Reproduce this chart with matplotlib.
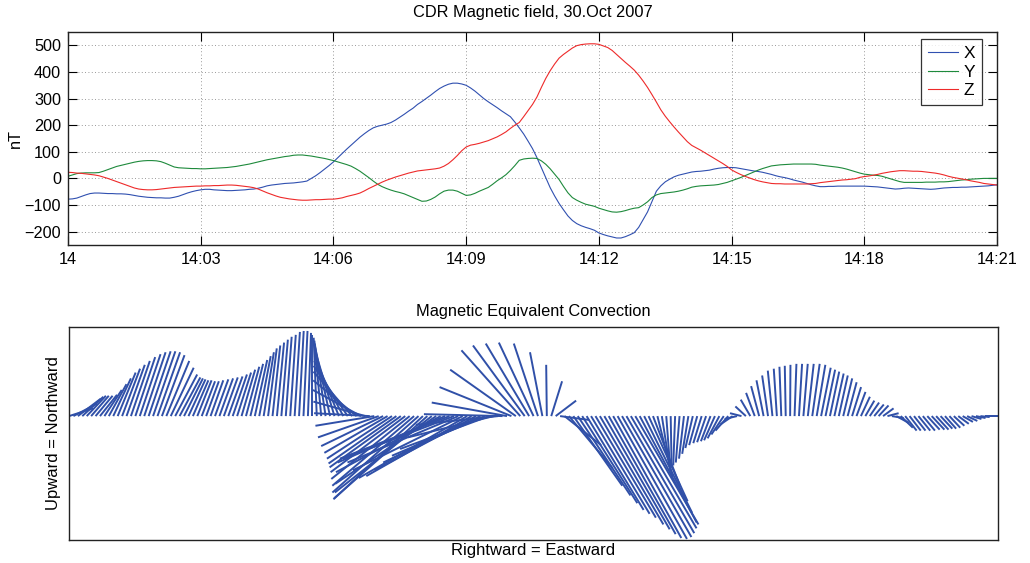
import numpy as np
import matplotlib.pyplot as plt
from matplotlib.collections import LineCollection

plt.rcParams['font.family'] = ['Liberation Sans', 'DejaVu Sans']
plt.rcParams['font.size'] = 11.7

# CDR magnetometer, 30 Oct 2007 14:00-14:21, one reading every 6 s (nT)
sample_s = 6
bx = [-78, -77, -74, -68, -62, -57, -55, -55, -56, -57,
      -57, -58, -58, -59, -61, -64, -67, -69, -71, -72,
      -73, -73, -74, -74, -71, -67, -61, -55, -50, -46,
      -43, -41, -41, -43, -44, -45, -46, -46, -45, -44,
      -43, -41, -40, -37, -33, -28, -25, -23, -21, -19,
      -18, -17, -15, -13, -10, 0, 10, 22, 35, 48,
      62, 78, 94, 110, 125, 140, 155, 168, 180, 190,
      196, 200, 204, 210, 219, 230, 241, 253, 264, 278,
      289, 301, 313, 326, 338, 347, 354, 358, 358, 355,
      350, 340, 328, 314, 300, 288, 277, 266, 254, 243,
      232, 212, 190, 167, 140, 112, 78, 40, 2, -35,
      -66, -94, -118, -141, -158, -170, -178, -184, -189, -195,
      -205, -211, -216, -220, -224, -224, -219, -212, -204, -184,
      -155, -126, -87, -48, -28, -13, -3, 6, 12, 16,
      20, 24, 26, 27, 29, 31, 35, 38, 40, 41,
      41, 40, 37, 34, 31, 28, 26, 23, 19, 15,
      10, 6, 3, -1, -6, -10, -14, -19, -24, -28,
      -31, -31, -30, -30, -29, -29, -29, -29, -29, -29,
      -29, -30, -31, -32, -34, -36, -38, -40, -39, -37,
      -36, -37, -38, -39, -40, -41, -40, -38, -36, -35,
      -34, -34, -33, -33, -32, -31, -30, -29, -28, -26,
      -24]
by = [8, 13, 18, 20, 21, 21, 21, 22, 27, 33,
      39, 45, 49, 53, 57, 61, 64, 66, 67, 67,
      66, 63, 57, 50, 43, 40, 39, 38, 37, 37,
      36, 36, 37, 38, 39, 40, 41, 43, 45, 48,
      51, 54, 58, 62, 66, 70, 73, 76, 79, 82,
      84, 87, 88, 88, 86, 84, 81, 78, 75, 71,
      67, 62, 57, 52, 46, 37, 27, 15, 3, -10,
      -22, -31, -38, -44, -49, -53, -58, -65, -72, -79,
      -86, -85, -79, -70, -58, -48, -44, -44, -48, -56,
      -64, -62, -56, -48, -41, -34, -22, -9, 2, 14,
      30, 48, 68, 73, 75, 76, 75, 66, 53, 36,
      16, -4, -30, -54, -72, -82, -90, -97, -101, -105,
      -112, -117, -122, -126, -127, -125, -121, -116, -112, -110,
      -100, -88, -72, -62, -57, -55, -53, -51, -48, -44,
      -39, -33, -30, -28, -27, -26, -25, -23, -19, -15,
      -9, -3, 3, 10, 17, 24, 31, 37, 42, 47,
      49, 51, 52, 53, 54, 54, 54, 54, 54, 53,
      50, 48, 46, 44, 42, 39, 35, 30, 25, 20,
      16, 14, 12, 11, 8, 3, -2, -7, -12, -15,
      -15, -15, -15, -15, -14, -14, -14, -13, -13, -12,
      -10, -8, -6, -5, -3, -2, -1, 0, 0, 0,
      0]
bz = [23, 22, 20, 19, 17, 15, 13, 10, 5, 0,
      -6, -12, -18, -24, -30, -36, -40, -42, -43, -43,
      -42, -40, -38, -36, -34, -33, -32, -31, -30, -29,
      -29, -28, -28, -27, -27, -26, -25, -25, -26, -28,
      -30, -32, -35, -40, -47, -54, -60, -66, -71, -74,
      -77, -79, -81, -82, -82, -81, -80, -80, -79, -78,
      -78, -76, -73, -68, -64, -60, -55, -47, -38, -30,
      -22, -14, -7, -1, 5, 10, 15, 20, 24, 28,
      30, 32, 34, 36, 39, 46, 56, 70, 86, 104,
      118, 125, 128, 132, 137, 142, 149, 156, 165, 175,
      188, 200, 210, 232, 255, 278, 306, 342, 376, 405,
      430, 452, 466, 478, 490, 499, 503, 505, 506, 506,
      504, 498, 492, 481, 466, 451, 436, 422, 407, 388,
      366, 342, 315, 287, 258, 234, 213, 193, 174, 156,
      138, 124, 115, 106, 96, 86, 76, 66, 56, 45,
      32, 23, 15, 8, 2, -4, -9, -13, -16, -19,
      -20, -20, -21, -21, -21, -21, -21, -21, -20, -19,
      -16, -14, -12, -10, -8, -6, -5, -3, -1, 4,
      7, 9, 12, 15, 19, 22, 25, 27, 29, 29,
      28, 27, 27, 26, 24, 22, 20, 17, 13, 8,
      4, 1, -2, -5, -9, -12, -15, -19, -21, -23,
      -25]

time_ticks = [0, 3, 6, 9, 12, 15, 18, 21]
time_labels = ['14', '14:03', '14:06', '14:09', '14:12', '14:15', '14:18', '14:21']
nT_ticks = [-200, -100, 0, 100, 200, 300, 400, 500]

minutes = np.arange(len(bx)) * sample_s / 60.0
bx = np.array(bx, dtype=float)
by = np.array(by, dtype=float)

fig = plt.figure(figsize=(10.3, 5.63), dpi=100)

# --- top panel: field components
ax1 = fig.add_axes([0.066, 0.565, 0.902, 0.378])
ax1.plot(minutes, bx, color='#3050b0', lw=0.8, label='X')
ax1.plot(minutes, by, color='#1e8a3c', lw=0.8, label='Y')
ax1.plot(minutes, bz, color='#ee2a2a', lw=0.8, label='Z')
ax1.set_xlim(0, 21)
ax1.set_ylim(-250, 550)
ax1.set_xticks(time_ticks)
ax1.set_xticklabels(time_labels)
ax1.set_yticks(nT_ticks)
ax1.set_ylabel('nT', labelpad=1)
ax1.set_title('CDR Magnetic field, 30.Oct 2007', fontsize=11.8, pad=11)
ax1.grid(True, linestyle=(0, (1, 3)), color='#777777', linewidth=0.6)
ax1.tick_params(direction='in', length=6.5, top=True, right=True, width=0.8, pad=5)
leg = ax1.legend(loc='upper right', bbox_to_anchor=(0.984, 0.967), borderaxespad=0,
                 fancybox=False, edgecolor='black', handlelength=1.75,
                 handletextpad=0.3, borderpad=0.4, labelspacing=0.2,
                 fontsize=12.5)
leg.get_frame().set_linewidth(0.9)

# --- bottom panel: equivalent convection sticks (east = -X, north = Y)
stick_scale = 0.007  # minutes per nT along the horizontal
segs = [[(t, 0.0), (t - stick_scale * x, y)] for t, x, y in zip(minutes, bx, by)]
ax2 = fig.add_axes([0.067, 0.041, 0.902, 0.378])
lc = LineCollection(segs, colors='#3050a8', linewidths=1.4)
ax2.add_collection(lc)
ax2.set_xlim(0, 21)
ax2.set_ylim(by.min() - 1, by.max() + 4)
ax2.set_xticks([])
ax2.set_yticks([])
ax2.set_title('Magnetic Equivalent Convection', fontsize=11.8, pad=8)
ax2.set_xlabel('Rightward = Eastward', fontsize=12, labelpad=2)
ax2.set_ylabel('Upward = Northward', fontsize=12, labelpad=6)

for ax in (ax1, ax2):
    for s in ax.spines.values():
        s.set_linewidth(1.0)
        s.set_color('#222222')

fig.savefig('out.png', dpi=100)
